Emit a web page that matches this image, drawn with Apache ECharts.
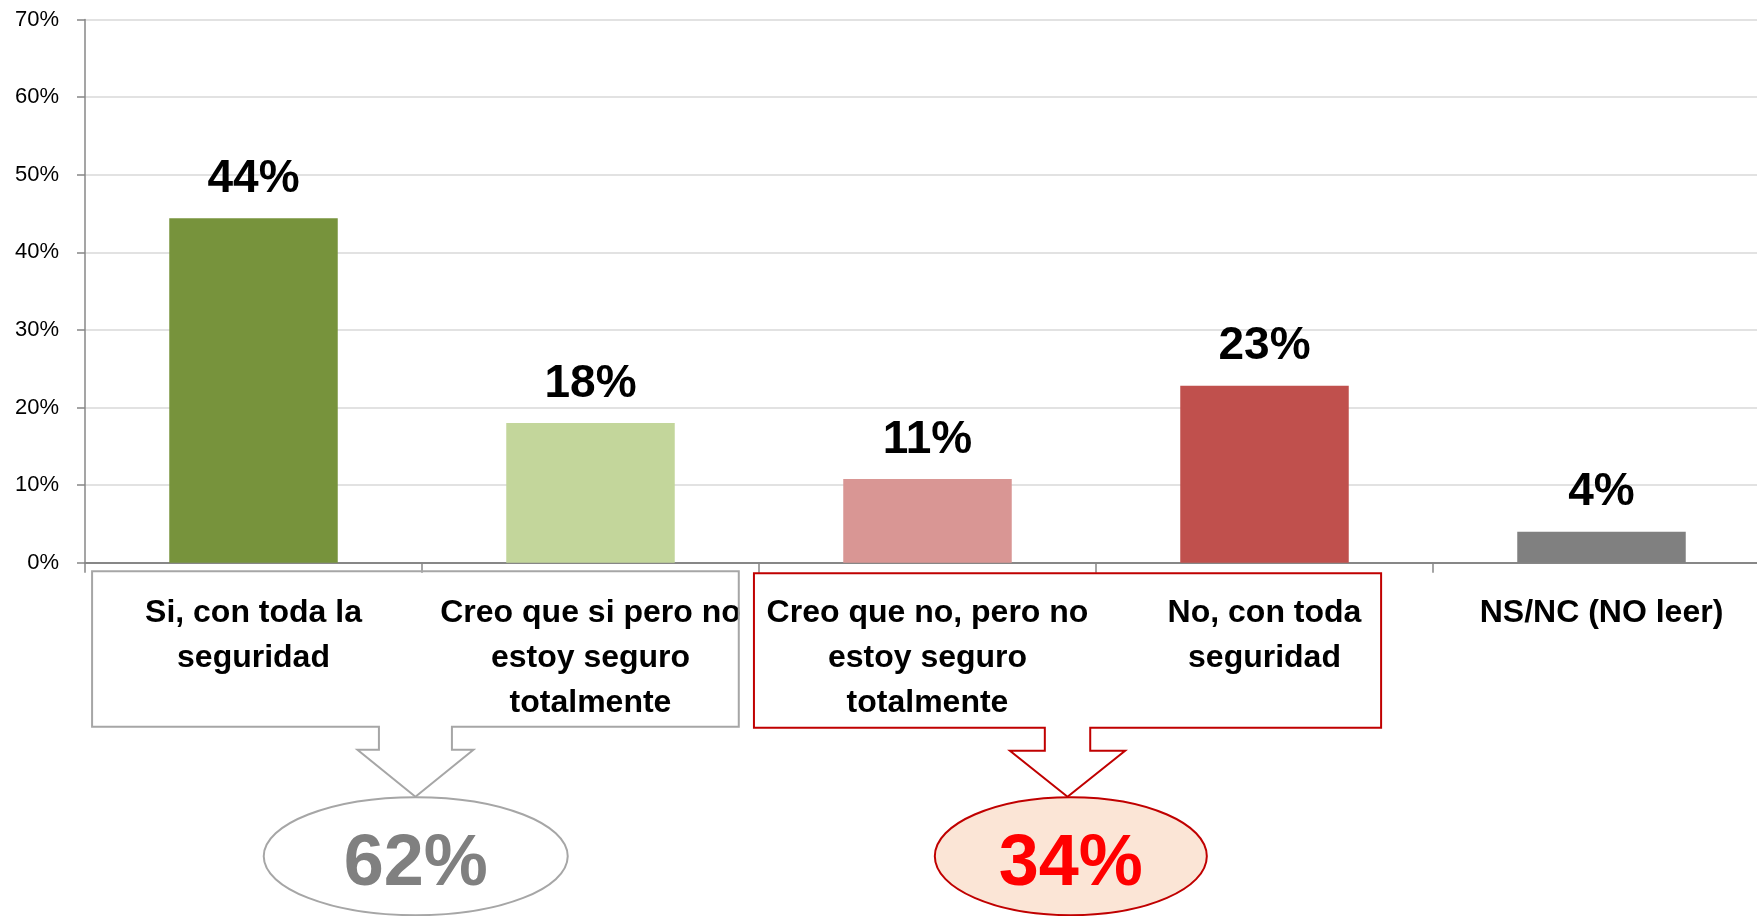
<!DOCTYPE html>
<html><head><meta charset="utf-8">
<script src="https://cdn.jsdelivr.net/npm/echarts@6/dist/echarts.min.js"></script>
<style>html,body{margin:0;padding:0;background:#fff}#c{width:1757px;height:916px}</style>
</head><body><div id="c"></div>
<script>
// ---- data ----
const categories = [
  "Si, con toda la\nseguridad",
  "Creo que si pero no\nestoy seguro\ntotalmente",
  "Creo que no, pero no\nestoy seguro\ntotalmente",
  "No, con toda\nseguridad",
  "NS/NC (NO leer)"
];
const values = [44.4, 18.0, 10.8, 22.8, 4.0];
const barColors = ['#77933C', '#C3D69B', '#D99694', '#C0504D', '#808080'];
const yMin = 0, yMax = 70, yInterval = 10;
const yesGroup = [0, 1];   // summed into the grey callout
const noGroup = [2, 3];    // summed into the red callout

const FONT = 'Liberation Sans, Arial, sans-serif';
const chart = echarts.init(document.getElementById('c'), null, {renderer: 'canvas'});

chart.setOption({
  animation: false,
  backgroundColor: '#fff',
  grid: {left: 85, top: 19.5, width: 1685, height: 543.2, containLabel: false, outerBoundsMode: 'none'},
  xAxis: {
    type: 'category',
    data: categories,
    axisLine: {lineStyle: {color: '#878787', width: 2}},
    axisTick: {show: true, length: 10, lineStyle: {color: '#878787', width: 1.5}},
    axisLabel: {
      interval: 0, hideOverlap: false, margin: 28,
      fontFamily: FONT, fontSize: 32, fontWeight: 'bold', lineHeight: 45, color: '#000'
    },
    splitLine: {show: false}
  },
  yAxis: {
    type: 'value', min: yMin, max: yMax, interval: yInterval,
    axisLine: {show: true, lineStyle: {color: '#878787', width: 1.5}},
    axisTick: {show: true, length: 8, lineStyle: {color: '#878787', width: 1.5}},
    axisLabel: {formatter: '{value}%', fontFamily: FONT, fontSize: 22, color: '#000', margin: 26},
    splitLine: {lineStyle: {color: '#D9D9D9', width: 1.5}}
  },
  series: [{
    type: 'bar',
    barWidth: '50%',
    data: values.map((v, i) => ({value: v, itemStyle: {color: barColors[i]}})),
    label: {
      show: true, position: 'top', distance: 16,
      formatter: p => Math.round(p.value) + '%',
      fontFamily: FONT, fontSize: 46, fontWeight: 'bold', color: '#000'
    }
  }]
});

function callout(group, opts) {
  const W = chart.convertToPixel({xAxisIndex: 0}, 1) - chart.convertToPixel({xAxisIndex: 0}, 0);
  const cL = chart.convertToPixel({xAxisIndex: 0}, group[0]);
  const cR = chart.convertToPixel({xAxisIndex: 0}, group[group.length - 1]);
  const y0 = chart.convertToPixel({yAxisIndex: 0}, 0);
  const left = cL - opts.lf * W, right = cR + opts.rf * W;
  const top = y0 + opts.top, bot = y0 + opts.bot;
  const mid = (left + right) / 2;
  const stemB = y0 + opts.stemB, tipY = y0 + 234;
  const pts = [
    [left, top], [right, top], [right, bot],
    [mid + opts.sh, bot], [mid + opts.sh, stemB], [mid + opts.hh, stemB],
    [mid, tipY],
    [mid - opts.hh, stemB], [mid - opts.sh, stemB], [mid - opts.sh, bot],
    [left, bot]
  ];
  const total = Math.round(group.reduce((s, i) => s + values[i], 0));
  const ecx = mid + opts.edx, ecy = y0 + 293.5;
  return [
    {type: 'polygon', shape: {points: pts}, style: {fill: 'none', stroke: opts.stroke, lineWidth: 2}, z: 1},
    {type: 'ellipse', shape: {cx: ecx, cy: ecy, rx: opts.rx, ry: 59},
      style: {fill: opts.fill, stroke: opts.stroke, lineWidth: 2}, z: 1},
    {type: 'text', x: ecx, y: ecy + 9, z: 2,
      style: {text: total + '%', fill: opts.textColor, font: 'bold 72px ' + FONT,
        align: 'center', verticalAlign: 'middle'}}
  ];
}

chart.setOption({
  graphic: [].concat(
    callout(yesGroup, {lf: 0.479, rf: 0.44, top: 8.5, bot: 164, stemB: 187, sh: 36.5, hh: 58,
      stroke: '#A6A6A6', fill: '#FFFFFF', rx: 152, edx: 0.3, textColor: '#808080'}),
    callout(noGroup, {lf: 0.515, rf: 0.346, top: 10.5, bot: 165, stemB: 188, sh: 22.7, hh: 57.6,
      stroke: '#C00000', fill: '#FBE5D6', rx: 136, edx: 3.3, textColor: '#FF0000'})
  )
});
</script>
</body></html>
